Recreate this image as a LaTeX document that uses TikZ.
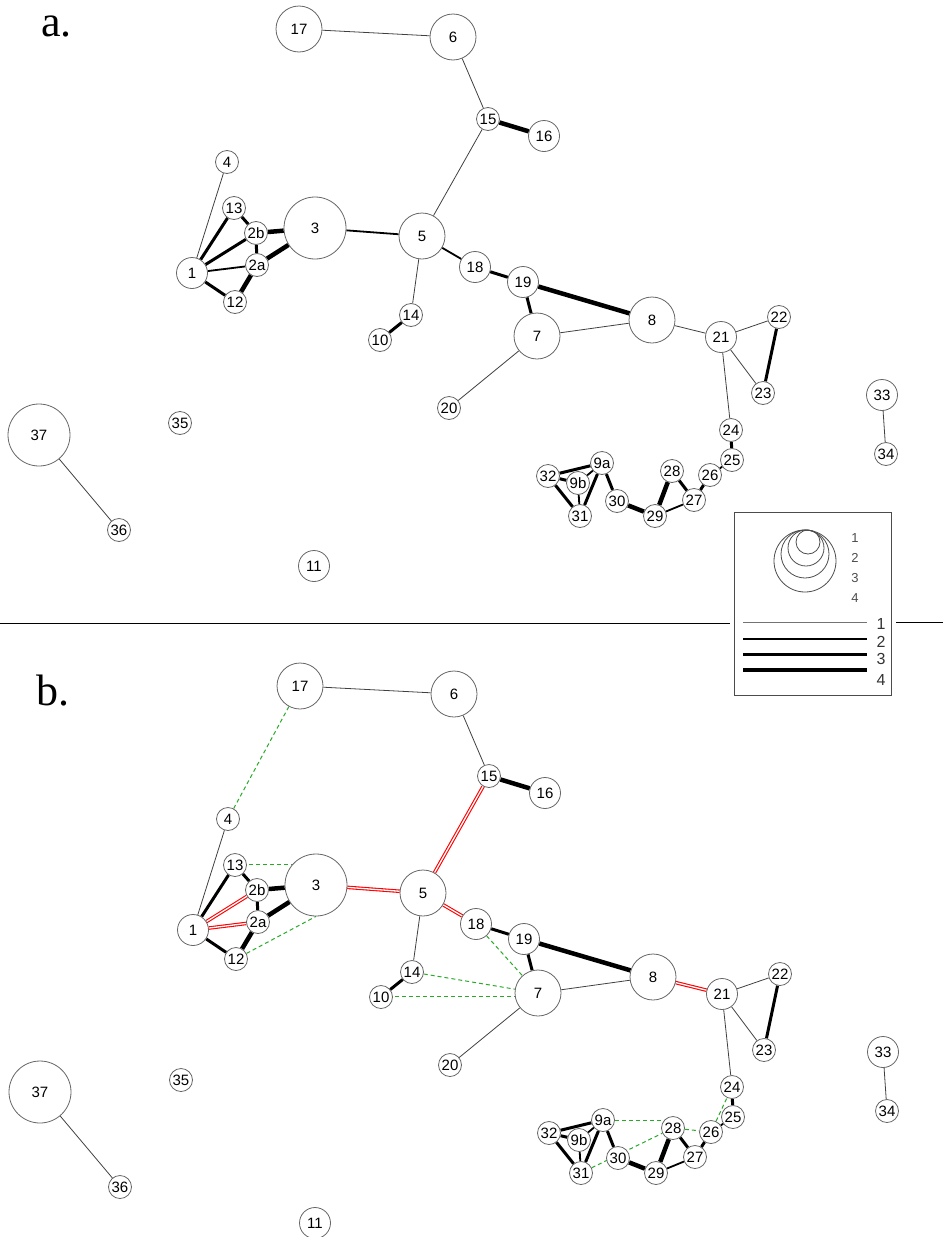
\documentclass[tikz,border=0pt]{standalone}
\usepackage{fontspec}
\setmainfont{Liberation Serif}
\setsansfont{Liberation Sans}
\pgfdeclarelayer{edges}
\pgfsetlayers{edges,main}
\definecolor{gdash}{RGB}{40,170,40}
\tikzset{
 nd/.style={circle,draw=black!60,line width=0.8pt,fill=white,inner sep=0pt,font=\sffamily\fontsize{15}{15}\selectfont},
 sa/.style={nd,minimum size=23pt},
 sb/.style={nd,minimum size=31pt},
 sc/.style={nd,minimum size=46pt},
 sd/.style={nd,minimum size=62pt},
 e1/.style={draw=black!75,line width=0.8pt},
 e2/.style={draw=black,line width=1.8pt},
 e3/.style={draw=black,line width=3pt},
 e4/.style={draw=black,line width=4.5pt},
 rd/.style={draw=red,double=white,line width=1.1pt,double distance=1.3pt},
 gd/.style={draw=gdash,line width=1pt,dash pattern=on 4pt off 3pt},
 lgtxt/.style={font=\sffamily\fontsize{13}{13}\selectfont,text=black!70,inner sep=0pt},
 lgtxtb/.style={font=\sffamily\fontsize{16}{16}\selectfont,text=black!80,inner sep=0pt},
 paneltxt/.style={font=\fontsize{44}{44}\selectfont,anchor=base west,inner sep=0pt,text height=22pt,text depth=0pt},
}
\newcommand\netnodes[1]{%
 \node[sc] (#1-17) at (299,29) {17};
 \node[sc] (#1-6) at (453,37) {6};
 \node[sa] (#1-15) at (488,119) {15};
 \node[sb] (#1-16) at (544,136) {16};
 \node[sa] (#1-4) at (227,162) {4};
 \node[sa] (#1-13) at (234,208) {13};
 \node[sa] (#1-2b) at (256,233) {2b};
 \node[sd] (#1-3) at (315,228) {3};
 \node[sc] (#1-5) at (422,236) {5};
 \node[sb] (#1-1) at (192,273) {1};
 \node[sa] (#1-2a) at (257,265) {2a};
 \node[sa] (#1-12) at (235,302) {12};
 \node[sb] (#1-18) at (475,267) {18};
 \node[sb] (#1-19) at (523,282) {19};
 \node[sc] (#1-8) at (652,320) {8};
 \node[sc] (#1-7) at (537,336) {7};
 \node[sa] (#1-14) at (411,315) {14};
 \node[sa] (#1-10) at (380,340) {10};
 \node[sb] (#1-21) at (721,337) {21};
 \node[sa] (#1-22) at (779,317) {22};
 \node[sa] (#1-23) at (763,393) {23};
 \node[sa] (#1-20) at (449,408) {20};
 \node[sb] (#1-33) at (882,395) {33};
 \node[sa] (#1-34) at (886,454) {34};
 \node[sd] (#1-37) at (39,435) {37};
 \node[sa] (#1-35) at (180,423) {35};
 \node[sa] (#1-36) at (119,530) {36};
 \node[sb] (#1-11) at (314,566) {11};
 \node[sa] (#1-24) at (731,430) {24};
 \node[sa] (#1-25) at (732,460) {25};
 \node[sa] (#1-26) at (710,475) {26};
 \node[sa] (#1-27) at (694,500) {27};
 \node[sa] (#1-28) at (672,471) {28};
 \node[sa] (#1-29) at (655,516) {29};
 \node[sa] (#1-30) at (617,501) {30};
 \node[sa] (#1-9a) at (602,463) {9a};
 \node[sa] (#1-9b) at (578,483) {9b};
 \node[sa] (#1-32) at (548,476) {32};
 \node[sa] (#1-31) at (580,516) {31};
}
\newcommand\commonedges[1]{%
 \draw[e1] (#1-17) -- (#1-6);
 \draw[e1] (#1-6) -- (#1-15);
 \draw[e4] (#1-15) -- (#1-16);
 \draw[e1] (#1-1) -- (#1-4);
 \draw[e3] (#1-1) -- (#1-13);
 \draw[e3] (#1-1) -- (#1-12);
 \draw[e3] (#1-13) -- (#1-2b);
 \draw[e3] (#1-2b) -- (#1-2a);
 \draw[e4] (#1-2b) -- (#1-3);
 \draw[e4] (#1-2a) -- (#1-3);
 \draw[e4] (#1-2a) -- (#1-12);
 \draw[e1] (#1-5) -- (#1-14);
 \draw[e3] (#1-14) -- (#1-10);
 \draw[e3] (#1-18) -- (#1-19);
 \draw[e4] (#1-19) -- (#1-8);
 \draw[e3] (#1-19) -- (#1-7);
 \draw[e1] (#1-7) -- (#1-8);
 \draw[e1] (#1-7) -- (#1-20);
 \draw[e1] (#1-21) -- (#1-22);
 \draw[e1] (#1-21) -- (#1-23);
 \draw[e3] (#1-22) -- (#1-23);
 \draw[e1] (#1-21) -- (#1-24);
 \draw[e3] (#1-24) -- (#1-25);
 \draw[e2] (#1-25) -- (#1-26);
 \draw[e3] (#1-26) -- (#1-27);
 \draw[e3] (#1-27) -- (#1-28);
 \draw[e2] (#1-27) -- (#1-29);
 \draw[e4] (#1-28) -- (#1-29);
 \draw[e4] (#1-29) -- (#1-30);
 \draw[e3] (#1-30) -- (#1-9a);
 \draw[e3] (#1-9a) -- (#1-32);
 \draw[e2] (#1-9a) -- (#1-9b);
 \draw[e3] (#1-9a) -- (#1-31);
 \draw[e3] (#1-32) -- (#1-9b);
 \draw[e3] (#1-32) -- (#1-31);
 \draw[e2] (#1-9b) -- (#1-31);
 \draw[e1] (#1-33) -- (#1-34);
 \draw[e1] (#1-37) -- (#1-36);
}
\begin{document}
\begin{tikzpicture}[x=1pt,y=-1pt]
\useasboundingbox (0,0) rectangle (943,1237);
% panel labels
\node[paneltxt] (labela) at (41,36) {a.};
\node[paneltxt] (labelb) at (36,705) {b.};
% divider
\draw[line width=0.8pt] (0,623) -- (730,623);
\draw[line width=0.8pt] (896,622) -- (943,622);
% legend
\draw[black!70,line width=1pt] (734,512) rectangle (891,695);
\draw[black!70,line width=0.8pt] (805,561) circle[radius=31pt];
\draw[black!70,line width=0.8pt] (805,554) circle[radius=24pt];
\draw[black!70,line width=0.8pt] (806,548) circle[radius=18pt];
\draw[black!70,line width=0.8pt] (808,542) circle[radius=12pt];
\node[lgtxt] (lc1) at (855,538) {1};
\node[lgtxt] (lc2) at (855,558) {2};
\node[lgtxt] (lc3) at (855,578) {3};
\node[lgtxt] (lc4) at (855,598) {4};
\draw[black!55,line width=1pt] (743,622) -- (867,622);
\draw[black,line width=2pt] (743,639) -- (867,639);
\draw[black,line width=3pt] (743,654) -- (867,654);
\draw[black,line width=4.5pt] (743,670) -- (867,670);
\node[lgtxtb] (ll1) at (881,624) {1};
\node[lgtxtb] (ll2) at (881,642) {2};
\node[lgtxtb] (ll3) at (881,659) {3};
\node[lgtxtb] (ll4) at (881,680) {4};
% panel a
\netnodes{a}
\begin{pgfonlayer}{edges}
\commonedges{a}
\draw[e1] (a-15) -- (a-5);
\draw[e3] (a-1) -- (a-2b);
\draw[e2] (a-1) -- (a-2a);
\draw[e2] (a-3) -- (a-5);
\draw[e2] (a-5) -- (a-18);
\draw[e1] (a-8) -- (a-21);
\end{pgfonlayer}
% panel b
\begin{scope}[shift={(1,657)}]
\netnodes{b}
\end{scope}
\begin{pgfonlayer}{edges}
\commonedges{b}
\draw[rd] (b-15) -- (b-5);
\draw[rd] (b-1) -- (b-2b);
\draw[rd] (b-1) -- (b-2a);
\draw[rd] (b-3) -- (b-5);
\draw[rd] (b-5) -- (b-18);
\draw[rd] (b-8) -- (b-21);
\draw[gd] (b-17) -- (b-4);
\draw[gd] ([yshift=0.5pt]b-13.center) -- ([yshift=0.5pt]b-13 -| b-3);
\draw[gd] (b-12) -- (b-3.south);
\draw[gd] (b-14) -- (b-7);
\draw[gd] ([yshift=0.5pt]b-10.center) -- ([yshift=0.5pt]b-10 -| b-7);
\draw[gd] (b-18) -- (b-7);
\draw[gd] (b-9a) -- (b-9a -| b-28);
\draw[gd] (b-28) -- (b-26);
\draw[gd] (b-26) -- (b-24);
\draw[gd] (b-31) -- (b-28);
\end{pgfonlayer}
\end{tikzpicture}
\end{document}
